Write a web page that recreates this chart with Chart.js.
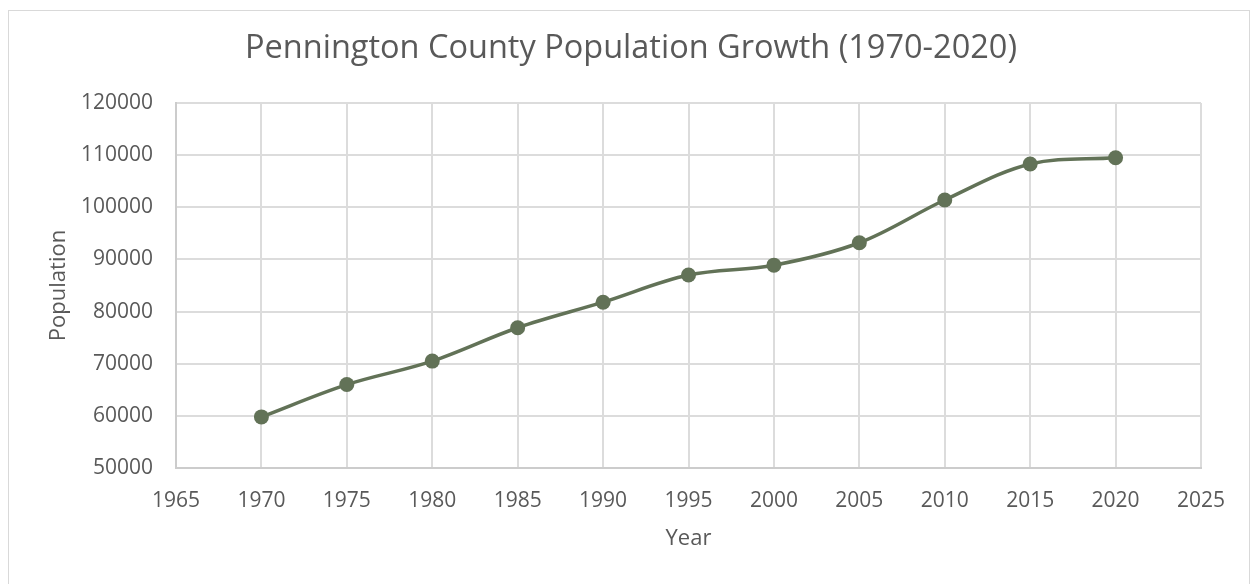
<!DOCTYPE html>
<html>
<head>
<meta charset="utf-8">
<script src="https://cdn.jsdelivr.net/npm/chart.js@4/dist/chart.umd.min.js"></script>
<style>
  html, body { margin: 0; padding: 0; background: #fff; overflow: hidden; }
  #box { position: absolute; left: 8px; top: 10px; width: 1240px; height: 600px; border: 1px solid #d9d9d9; }
  #chart { display: block; }
</style>
</head>
<body>
<div id="box"><canvas id="chart" width="1240" height="600"></canvas></div>
<script>
var years = [1970, 1975, 1980, 1985, 1990, 1995, 2000, 2005, 2010, 2015, 2020];
var population = [59800, 66000, 70500, 76900, 81800, 87000, 88900, 93200, 101400, 108300, 109500];
var xTicks = { min: 1965, max: 2025, step: 5 };
var yTicks = { min: 50000, max: 120000, step: 10000 };

var points = years.map(function (y, i) { return { x: y, y: population[i] }; });

var textColor = '#595959';
var lineColor = '#627257';

const chart = new Chart(document.getElementById('chart'), {
    type: 'line',
    data: {
        datasets: [{
            label: 'Population',
            data: points,
            borderColor: lineColor,
            backgroundColor: lineColor,
            borderWidth: 3.5,
            pointRadius: 7.5,
            pointBorderWidth: 0,
            pointBackgroundColor: lineColor,
            tension: 0.35,
            fill: false
        }]
    },
    options: {
        responsive: false,
        animation: false,
        layout: { padding: { left: 52, right: 48, top: 0, bottom: 0 } },
        plugins: {
            legend: { display: false },
            tooltip: { enabled: false },
            title: {
                display: true,
                text: 'Pennington County Population Growth (1970-2020)',
                color: textColor,
                font: { family: 'Open Sans', size: 32.5, weight: 'normal' },
                padding: { top: 18.5, bottom: 34.5 }
            }
        },
        scales: {
            x: {
                type: 'linear',
                min: xTicks.min,
                max: xTicks.max,
                ticks: {
                    stepSize: xTicks.step,
                    color: textColor,
                    padding: 20,
                    font: { family: 'Open Sans', size: 21 },
                    callback: function (v) { return String(v); }
                },
                grid: { color: '#dcdcdc', lineWidth: 2, drawTicks: false },
                border: { color: '#cccccc', width: 2 },
                title: {
                    display: true,
                    text: 'Year',
                    color: textColor,
                    font: { family: 'Open Sans', size: 22 },
                    padding: { top: 0, bottom: 59 }
                },
                afterFit: function (s) { s.height = 143; }
            },
            y: {
                min: yTicks.min,
                max: yTicks.max,
                ticks: {
                    stepSize: yTicks.step,
                    color: textColor,
                    padding: 23,
                    font: { family: 'Open Sans', size: 21 },
                    callback: function (v) { return String(v); }
                },
                grid: { color: '#dcdcdc', lineWidth: 2, drawTicks: false },
                border: { color: '#cccccc', width: 2 },
                title: {
                    display: true,
                    text: 'Population',
                    color: textColor,
                    font: { family: 'Open Sans', size: 22 },
                    padding: { top: -15, bottom: 0 }
                },
                afterFit: function (s) { s.width = 115; }
            }
        }
    }
});
</script>
</body>
</html>
